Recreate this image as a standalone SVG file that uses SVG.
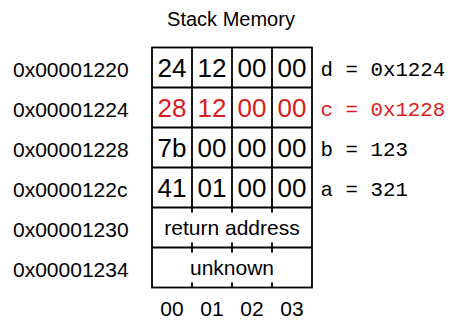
<svg xmlns="http://www.w3.org/2000/svg" width="450" height="320" viewBox="0 0 450 320">
<style>
text{font-family:"Liberation Sans",Arial,sans-serif;fill:#000}
.t{font-size:20px;text-anchor:middle}
.addr{font-size:21px}
.cell{font-size:26px;text-anchor:middle}
.wide{font-size:21px;text-anchor:middle}
.var{font-family:"Liberation Mono","Courier New",monospace;font-size:20.8px}
.idx{font-size:21px;text-anchor:middle}
.red{fill:#dc1c1c}
.ln{stroke:#000;stroke-width:1.8;fill:none}
</style>
<rect width="450" height="320" fill="#fff"/>
<text class="t" x="231" y="26">Stack Memory</text>
<g id="addresses">
<text class="addr" x="13" y="77">0x00001220</text>
<text class="addr" x="13" y="117">0x00001224</text>
<text class="addr" x="13" y="157">0x00001228</text>
<text class="addr" x="13" y="197">0x0000122c</text>
<text class="addr" x="13" y="237">0x00001230</text>
<text class="addr" x="13" y="277">0x00001234</text>
</g>
<g id="grid">
<rect class="ln" x="152" y="47.5" width="160" height="240"/>
<path class="ln" d="M152 87.5H312M152 127.5H312M152 167.5H312M152 207.5H312M152 247.5H312"/>
<path class="ln" d="M192 47.5V207.5M232 47.5V207.5M272 47.5V207.5"/>
<path class="ln" d="M192 207.5v5M232 207.5v5M272 207.5v5M192 242.5v10M232 242.5v10M272 242.5v10M192 282.5v5M232 282.5v5M272 282.5v5"/>
</g>
<g id="row-d">
<text class="cell" x="172" y="77">24</text>
<text class="cell" x="212" y="77">12</text>
<text class="cell" x="252" y="77">00</text>
<text class="cell" x="292" y="77">00</text>
<text class="var" x="320.5" y="76">d = 0x1224</text>
</g>
<g id="row-c">
<text class="cell red" x="172" y="117">28</text>
<text class="cell red" x="212" y="117">12</text>
<text class="cell red" x="252" y="117">00</text>
<text class="cell red" x="292" y="117">00</text>
<text class="var red" x="320.5" y="116">c = 0x1228</text>
</g>
<g id="row-b">
<text class="cell" x="172" y="157">7b</text>
<text class="cell" x="212" y="157">00</text>
<text class="cell" x="252" y="157">00</text>
<text class="cell" x="292" y="157">00</text>
<text class="var" x="320.5" y="156">b = 123</text>
</g>
<g id="row-a">
<text class="cell" x="172" y="197">41</text>
<text class="cell" x="212" y="197">01</text>
<text class="cell" x="252" y="197">00</text>
<text class="cell" x="292" y="197">00</text>
<text class="var" x="320.5" y="196">a = 321</text>
</g>
<g id="row-ret">
<text class="wide" x="232" y="235">return address</text>
</g>
<g id="row-unknown">
<text class="wide" x="232" y="275">unknown</text>
</g>
<g id="offsets">
<text class="idx" x="172" y="316">00</text>
<text class="idx" x="212" y="316">01</text>
<text class="idx" x="252" y="316">02</text>
<text class="idx" x="292" y="316">03</text>
</g>
</svg>
